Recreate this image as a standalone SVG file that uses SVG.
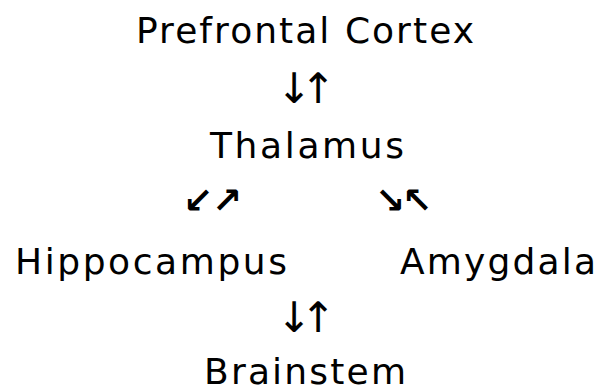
<svg xmlns="http://www.w3.org/2000/svg" width="601" height="391" viewBox="0 0 601 391">
<style>
text { font-family: "DejaVu Sans", Verdana, sans-serif; font-size: 36px; fill: #000; }
.v { font-size: 42px; text-anchor: middle; }
.d { font-size: 36px; text-anchor: middle; font-weight: bold; }
</style>
<rect width="601" height="391" fill="#fff"/>
<g id="prefrontal"><text x="136" y="43" textLength="338" lengthAdjust="spacing">Prefrontal Cortex</text></g>
<g id="thalamus"><text x="210" y="158" textLength="194" lengthAdjust="spacing">Thalamus</text></g>
<g id="hippocampus"><text x="15" y="274" textLength="272" lengthAdjust="spacing">Hippocampus</text></g>
<g id="amygdala"><text x="400" y="274" textLength="196" lengthAdjust="spacing">Amygdala</text></g>
<g id="brainstem"><text x="204" y="384" textLength="202" lengthAdjust="spacing">Brainstem</text></g>
<g id="connectors">
<text class="v" x="294 318" y="103">↓↑</text>
<text class="d" x="198 227" y="213">↙↗</text>
<text class="d" x="390 417" y="213">↘↖</text>
<text class="v" x="294 318" y="332">↓↑</text>
</g>
</svg>
